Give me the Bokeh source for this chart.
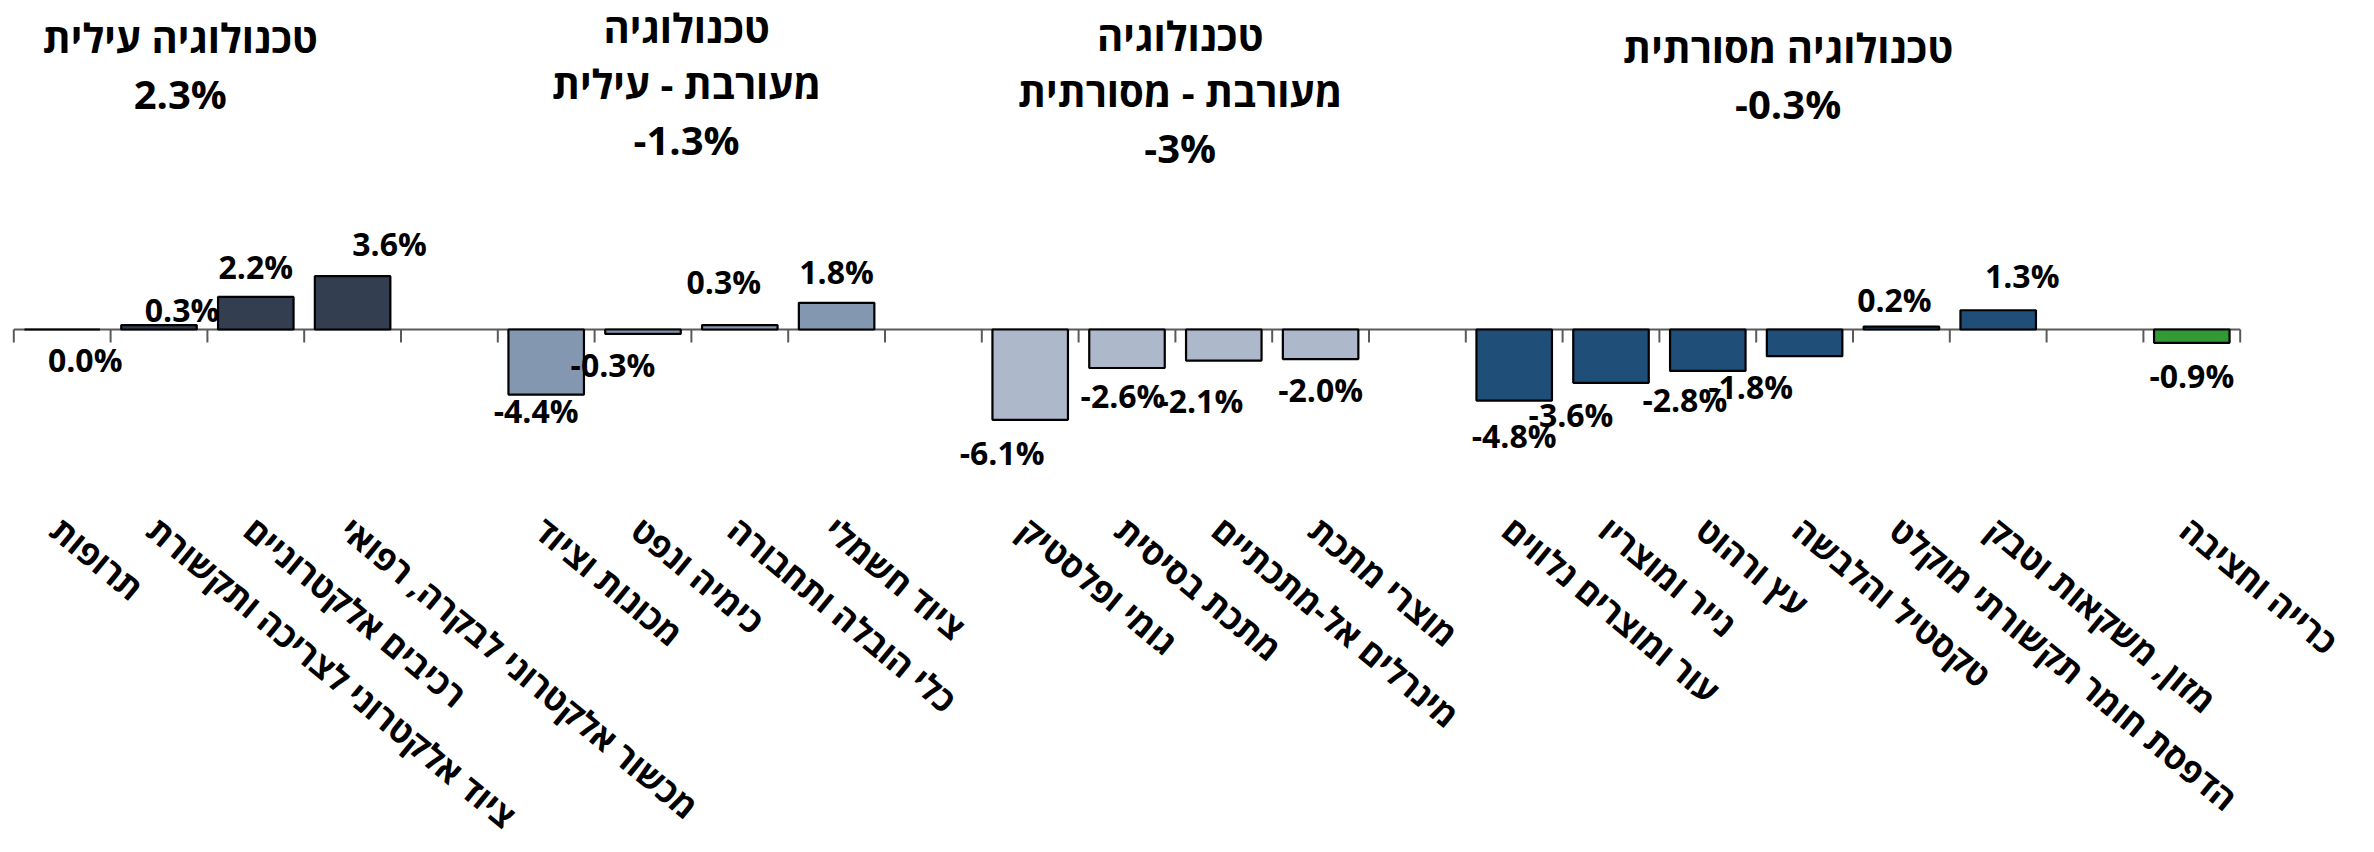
from bokeh.plotting import figure
from bokeh.models import Range1d, ColumnDataSource
from bokeh.core.properties import value
from bokeh.embed import file_html
from bokeh.resources import INLINE

# ---------------- data ----------------
cats_high = ["תרופות", "ציוד אלקטרוני לצריכה ותקשורת", "רכיבים אלקטרוניים",
             "מכשור אלקטרוני לבקרה, רפואי"]
vals_high = [0.0, 0.3, 2.2, 3.6]

cats_midhigh = ["מכונות וציוד", "כימיה ונפט", "כלי הובלה ותחבורה", "ציוד חשמלי"]
vals_midhigh = [-4.4, -0.3, 0.3, 1.8]

cats_midlow = ["גומי ופלסטיק", "מתכת בסיסית", "מינרלים אל-מתכתיים", "מוצרי מתכת"]
vals_midlow = [-6.1, -2.6, -2.1, -2.0]

cats_low = ["עור ומוצרים נלווים", "נייר ומוצריו", "עץ ורהוט", "טקסטיל והלבשה",
            "הדפסת חומר תקשורתי מוקלט", "מזון, משקאות וטבק"]
vals_low = [-4.8, -3.6, -2.8, -1.8, 0.2, 1.3]

cats_mining = ["כרייה וחציבה"]
vals_mining = [-0.9]

group_titles = ["טכנולוגיה עילית", "טכנולוגיה\nמעורבת - עילית",
                "טכנולוגיה\nמעורבת - מסורתית", "טכנולוגיה מסורתית"]
group_totals = ["2.3%", "-1.3%", "-3%", "-0.3%"]

# ---------------- styling / layout ----------------
group_colors = ["#333F50", "#8497B0", "#ADB9CA", "#1F4E79", "#339933"]
# manual nudges of data labels (pixels), in bar order
label_dx = [23, 23, 0, 37, -10, -30, -16, 0, -28, -4, -23, 0, 0, -40, -23, -54, -7, 24, 0]
label_gap = [23, 7, 21, 24, 9, 24, 35, 22, 26, 21, 33, 24, 28, 25, 22, 24, 18, 26, 26]
title_x = [1.22, 6.45, 11.55, 17.83]       # slot units
title_first_baseline = [37, 27, 35, 47]    # px from top
title_line_step = 56

W, H = 2358, 844
PX_Y = 14.8          # px per percent
AXIS_PX = 329        # px from top of zero line
SLOT_PX = 96.8
FIRST_CENTER_PX = 61.7
TICK_PX = 13
LABEL_FS = 32
CAP = 0.714 * LABEL_FS
FIX_POS = 9
FIX_NEG = 16

groups_c = [cats_high, cats_midhigh, cats_midlow, cats_low, cats_mining]
groups_v = [vals_high, vals_midhigh, vals_midlow, vals_low, vals_mining]

pos, vals, cats, cols = [], [], [], []
slot = 0
for gi, (gc, gv) in enumerate(zip(groups_c, groups_v)):
    if gi > 0:
        slot += 1  # empty slot between groups
    for c, v in zip(gc, gv):
        pos.append(slot)
        vals.append(v)
        cats.append(c)
        cols.append(group_colors[gi])
        slot += 1
n_slots = slot

def px_to_y(py):
    return (AXIS_PX - py) / PX_Y

x_range = Range1d(-FIRST_CENTER_PX / SLOT_PX, (W - FIRST_CENTER_PX) / SLOT_PX)
y_range = Range1d(px_to_y(H), px_to_y(0))

p = figure(width=W, height=H, x_range=x_range, y_range=y_range,
           output_backend="svg", toolbar_location=None,
           x_axis_location=None, y_axis_location=None,
           min_border=0, outline_line_color=None,
           background_fill_color="white", border_fill_color="white")
p.grid.visible = False

# zero line and ticks
p.segment(x0=[-0.5], x1=[n_slots - 0.5], y0=[0], y1=[0],
          line_color="#5a5a5a", line_width=2)
bounds = [b - 0.5 for b in range(n_slots + 1)]
p.segment(x0=bounds, x1=bounds, y0=[0] * len(bounds),
          y1=[-TICK_PX / PX_Y] * len(bounds), line_color="#5a5a5a", line_width=2)

# bars
src = ColumnDataSource(dict(x=pos, top=vals, color=cols))
p.vbar(x="x", top="top", bottom=0, width=0.78, source=src,
       fill_color="color", line_color="black", line_width=2.2)

# data labels
ly = []
for v, g in zip(vals, label_gap):
    if v > 0:
        ly.append(v + (g + FIX_POS) / PX_Y)
    else:
        ly.append(v - (g + CAP - FIX_NEG) / PX_Y)
p.text(x=pos, y=ly, text=[f"{v:.1f}%" for v in vals], x_offset=label_dx,
       text_align="center", text_baseline="alphabetic",
       text_font=value("Open Sans"), text_font_style="bold",
       text_font_size=f"{LABEL_FS}px", text_color="black")

# category labels (rotated)
cat_y = px_to_y(506)
p.text(x=pos, y=[cat_y] * len(pos), text=cats, angle=-0.69, x_offset=8,
       text_align="left", text_baseline="top",
       text_font=value("Open Sans"), text_font_style="bold",
       text_font_size="34px", text_color="black")

# group titles
tx, ty, tt = [], [], []
for gx, b0, name, tot in zip(title_x, title_first_baseline, group_titles, group_totals):
    lines = name.split("\n") + [tot]
    for k, ln in enumerate(lines):
        tx.append(gx)
        ty.append(px_to_y(b0 + k * title_line_step))
        tt.append(ln)
p.text(x=tx, y=ty, text=tt, text_align="center", text_baseline="alphabetic",
       text_font=value("Open Sans"), text_font_style="bold",
       text_font_size="40px", text_color="black")

open("out.html", "w").write(file_html(p, INLINE))
